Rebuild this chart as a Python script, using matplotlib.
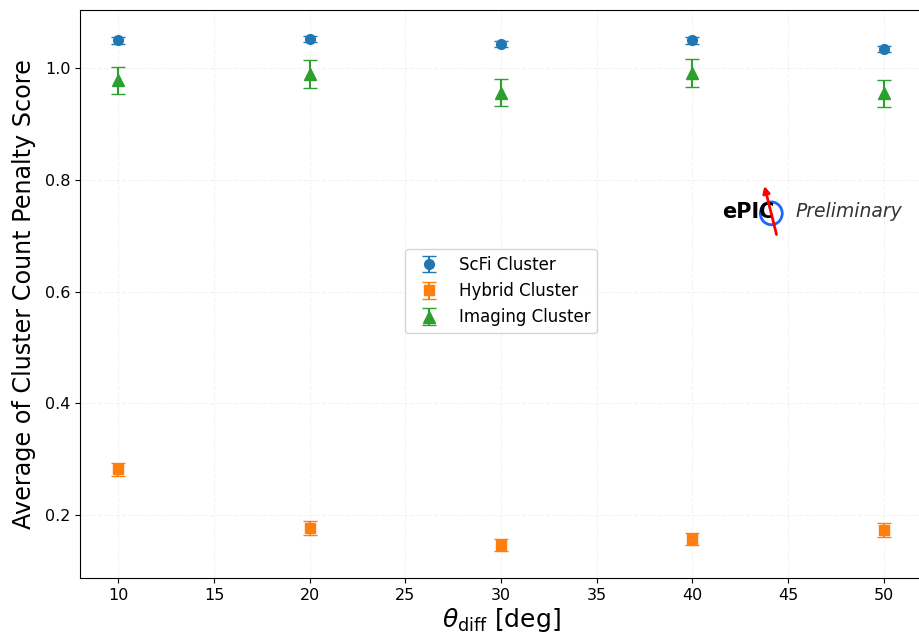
import matplotlib.pyplot as plt
import matplotlib.patches as mpatches

theta = [10, 20, 30, 40, 50]

scfi = [1.050, 1.052, 1.043, 1.050, 1.034]
scfi_err = [0.006, 0.006, 0.005, 0.006, 0.006]

hybrid = [0.282, 0.177, 0.147, 0.157, 0.173]
hybrid_err = [0.012, 0.012, 0.011, 0.011, 0.012]

imaging = [0.978, 0.989, 0.956, 0.991, 0.955]
imaging_err = [0.024, 0.025, 0.024, 0.025, 0.024]

fig = plt.figure(figsize=(9.19, 6.37), dpi=100)
ax = fig.add_axes([80/919, 59/637, 842/919, 568/637])

ax.errorbar(theta, scfi, yerr=scfi_err, fmt='o', color='#1f77b4', capsize=5, markersize=7, label='ScFi Cluster')
ax.errorbar(theta, hybrid, yerr=hybrid_err, fmt='s', color='#ff7f0e', capsize=5, markersize=7, label='Hybrid Cluster')
ax.errorbar(theta, imaging, yerr=imaging_err, fmt='^', color='#2ca02c', capsize=5, markersize=8, label='Imaging Cluster')

ax.set_xlim(8, 52)
ax.set_ylim(0.0873, 1.104)
ax.set_xticks([10, 15, 20, 25, 30, 35, 40, 45, 50])
ax.set_yticks([0.2, 0.4, 0.6, 0.8, 1.0])
ax.tick_params(labelsize=11.5)
ax.grid(True, linestyle='--', alpha=0.15)

ax.set_xlabel(r'$\theta_{\mathrm{diff}}$ [deg]', fontsize=18, labelpad=2)
ax.set_ylabel('Average of Cluster Count Penalty Score', fontsize=17.2, labelpad=6)

ax.legend(loc='center', bbox_to_anchor=(0.5, 0.505), fontsize=12)

# ePIC Preliminary mark
ax.text(0.763, 0.645, 'ePIC', transform=ax.transAxes, fontsize=15, fontweight='bold', ha='left', va='center')
circ = mpatches.Ellipse((0.821, 0.642), 0.026, 0.04, transform=ax.transAxes, fill=False, edgecolor='#1a66ff', linewidth=2)
ax.add_patch(circ)
ax.annotate('', xy=(0.812, 0.695), xytext=(0.828, 0.6), xycoords='axes fraction',
            arrowprops=dict(arrowstyle='-|>', color='red', lw=2))
ax.text(0.85, 0.645, 'Preliminary', transform=ax.transAxes, fontsize=13.5, style='italic', color='#333333', ha='left', va='center')

fig.savefig('out.png', dpi=100)
